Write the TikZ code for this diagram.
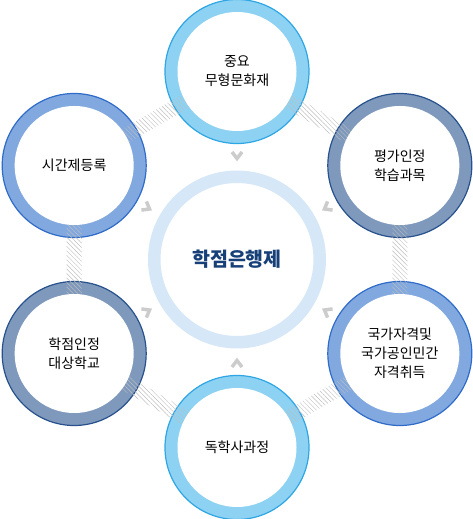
\documentclass[tikz,border=0pt]{standalone}
\usepackage{fontspec}
\setmainfont{Noto Sans CJK KR}
\usetikzlibrary{calc, patterns.meta}
\definecolor{SkyA}{HTML}{2FA6E4}
\definecolor{SkyB}{HTML}{8DD2F3}
\definecolor{SlateA}{HTML}{27518C}
\definecolor{SlateB}{HTML}{7F99BD}
\definecolor{BlueA}{HTML}{2F6BC8}
\definecolor{BlueB}{HTML}{82A9DF}
\definecolor{CoreB}{HTML}{D6E7F7}
\definecolor{CoreText}{HTML}{173F78}
\definecolor{Hatch}{HTML}{BEBEBE}
\definecolor{Chev}{HTML}{CCCCCC}
\tikzset{
  ring/.style={circle, minimum size=144pt, inner sep=0pt, line width=1.2pt},
  skyring/.style={ring, fill=SkyB, draw=SkyA},
  slatering/.style={ring, fill=SlateB, draw=SlateA},
  bluering/.style={ring, fill=BlueB, draw=BlueA},
  hole/.style={circle, fill=white, minimum size=119pt, inner sep=0pt,
               align=center, font=\fontsize{14}{19}\selectfont},
  core/.style={circle, draw=CoreB, line width=12.5pt, fill=white,
               minimum size=165.5pt, inner sep=0pt, text=CoreText,
               font=\fontsize{19.5}{24}\selectfont\bfseries},
  hatch/.style={pattern={Lines[angle=-45, distance=3.2pt, line width=0.45pt]},
                pattern color=Hatch},
  chev/.style={draw=Chev, line width=3.5pt, miter limit=10},
}

\begin{document}
\begin{tikzpicture}
  \useasboundingbox (-237pt,-259.5pt) rectangle (235pt,259.5pt);
  \node[core] (core) at (0,0) {학점은행제};
  \node[skyring] (top) at (90:188pt) {};
  \node[slatering] (ur) at (30:188pt) {};
  \node[bluering] (lr) at (-30:188pt) {};
  \node[skyring] (bot) at (-90:188pt) {};
  \node[slatering] (ll) at (-150:188pt) {};
  \node[bluering] (ul) at (150:188pt) {};
  \foreach \a/\b in {top/ur, ur/lr, lr/bot, bot/ll, ll/ul, ul/top} {
    \coordinate (h1) at ($(\a)!58pt!(\b)$);
    \coordinate (h2) at ($(\b)!58pt!(\a)$);
    \fill[hatch] ($(h1)!7.5pt!90:(h2)$) -- ($(h2)!7.5pt!-90:(h1)$)
      -- ($(h2)!7.5pt!90:(h1)$) -- ($(h1)!7.5pt!-90:(h2)$) -- cycle;
  }
  \node[hole] (top-t) at (top) {중요\\무형문화재};
  \node[hole] (ur-t) at (ur) {평가인정\\학습과목};
  \node[hole] (lr-t) at (lr) {국가자격및\\국가공인민간\\자격취득};
  \node[hole] (bot-t) at (bot) {독학사과정};
  \node[hole] (ll-t) at (ll) {학점인정\\대상학교};
  \node[hole] (ul-t) at (ul) {시간제등록};
  \foreach \a in {90,30,-30,-90,-150,150}
    \draw[chev, shift={($(core)+(\a:101pt)$)}, rotate=\a]
      (6.5pt,5pt) -- (0,0) -- (6.5pt,-5pt);
\end{tikzpicture}
\end{document}
